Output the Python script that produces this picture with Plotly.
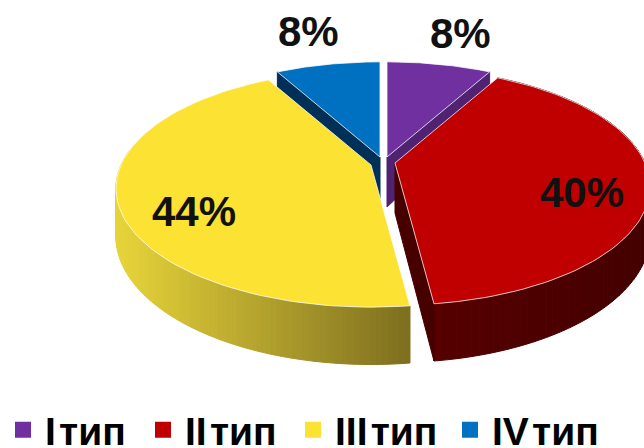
import math
import plotly.graph_objects as go

categories = ["I\u200aтип", "II\u200aтип", "III\u200aтип", "IV\u200aтип"]
values = [8, 40, 44, 8]
labels = ["8%", "40%", "44%", "8%"]
top_colors = ["#7030a0", "#c00000", "#fbe233", "#0070c0"]

# projection of the disc
A, B, K, H = 250, 114, 0.198, 46
APEX = [(387, 157), (395, 163), (371, 165), (380, 157)]
LABEL_POS = [(460, 33), (582, 192), (194, 211), (308, 31)]
LEGEND_X = [1, 141, 291, 448]


def project(theta_deg, apex, down=0.0):
    t = math.radians(theta_deg)
    X, Y = math.sin(t), -math.cos(t)
    w = 1 / (1 - K * Y)
    return apex[0] + A * X * w, apex[1] + B * Y * w + down * w


def steps(a, b, n):
    return [a + (b - a) * i / n for i in range(n + 1)]


def mix(c1, c2, f):
    f = max(0, min(1, f))
    rgb = [int(c1[i:i + 2], 16) * (1 - f) + int(c2[i:i + 2], 16) * f for i in (1, 3, 5)]
    return "rgb(%d,%d,%d)" % tuple(round(v) for v in rgb)


def poly(fig, xs, ys, fill, line=None, width=1):
    fig.add_trace(go.Scatter(x=xs + xs[:1], y=ys + ys[:1], mode="lines", fill="toself",
                             fillcolor=fill, line=dict(color=line or fill, width=width),
                             showlegend=False, hoverinfo="skip"))


total = sum(values)
bounds = [0]
for v in values:
    bounds.append(bounds[-1] + v / total * 360)
spans = list(zip(bounds[:-1], bounds[1:]))

fig = go.Figure()


def cut_face(i, theta, color):
    ap = APEX[i]
    x1, y1 = project(theta, ap)
    x2, y2 = project(theta, ap, H)
    poly(fig, [ap[0], ap[0], x2, x1], [ap[1], ap[1] + H + 4, y2, y1], color)


def wall(i, a, b, c_left, c_right, xl, xr):
    ap = APEX[i]
    th = steps(a, b, 100)
    for t0, t1 in zip(th[:-1], th[1:]):
        p0, p1 = project(t0, ap), project(t1, ap)
        q0, q1 = project(t0, ap, H), project(t1, ap, H)
        col = mix(c_left, c_right, ((p0[0] + p1[0]) / 2 - xl) / (xr - xl))
        poly(fig, [p0[0], p1[0], q1[0], q0[0]], [p0[1], p1[1], q1[1], q0[1]], col)


def top(i):
    ap = APEX[i]
    pts = [project(t, ap) for t in steps(spans[i][0], spans[i][1], 90)]
    poly(fig, [ap[0]] + [p[0] for p in pts], [ap[1]] + [p[1] for p in pts],
         top_colors[i], "rgba(255,255,255,0.75)", 1)


# back slices
cut_face(3, spans[3][0], "#002f57")
top(3)
cut_face(0, spans[0][1], "#4f2272")
top(0)
# yellow
wall(2, spans[2][0], spans[2][0] + 105, "#e6d33a", "#7f7020", 120, 405)
top(2)
# red
wall(1, spans[1][0], spans[1][1], "#560000", "#440000", 435, 644)
cut_face(1, spans[1][1], "#470000")
top(1)

legend_font = dict(family="Liberation Sans", size=39, color="#000000", weight="bold")
legends = {}
for i, c in enumerate(categories):
    key = "legend" if i == 0 else f"legend{i + 1}"
    fig.add_trace(go.Scatter(x=[None], y=[None], mode="markers", name=c, legend=key,
                             showlegend=True,
                             marker=dict(symbol="square", size=16, color=top_colors[i])))
    legends[key] = dict(x=LEGEND_X[i] / 644, xanchor="left", y=0.112, yanchor="top",
                        font=legend_font, itemwidth=34, bgcolor="rgba(0,0,0,0)")

for lab, (x, y) in zip(labels, LABEL_POS):
    fig.add_annotation(x=x, y=y, text=lab, showarrow=False, xref="x", yref="y",
                       font=dict(family="Liberation Sans", size=42, color="#111111", weight="bold"))

fig.update_layout(
    width=644, height=448, margin=dict(l=0, r=0, t=0, b=0, autoexpand=False),
    paper_bgcolor="white", plot_bgcolor="white",
    xaxis=dict(range=[0, 644], visible=False, fixedrange=True),
    yaxis=dict(range=[448, 0], visible=False, fixedrange=True),
    **legends,
)
fig.write_html("out.html", config={"displayModeBar": False},
               post_script="document.body.style.margin='0';document.body.style.overflow='hidden';")
